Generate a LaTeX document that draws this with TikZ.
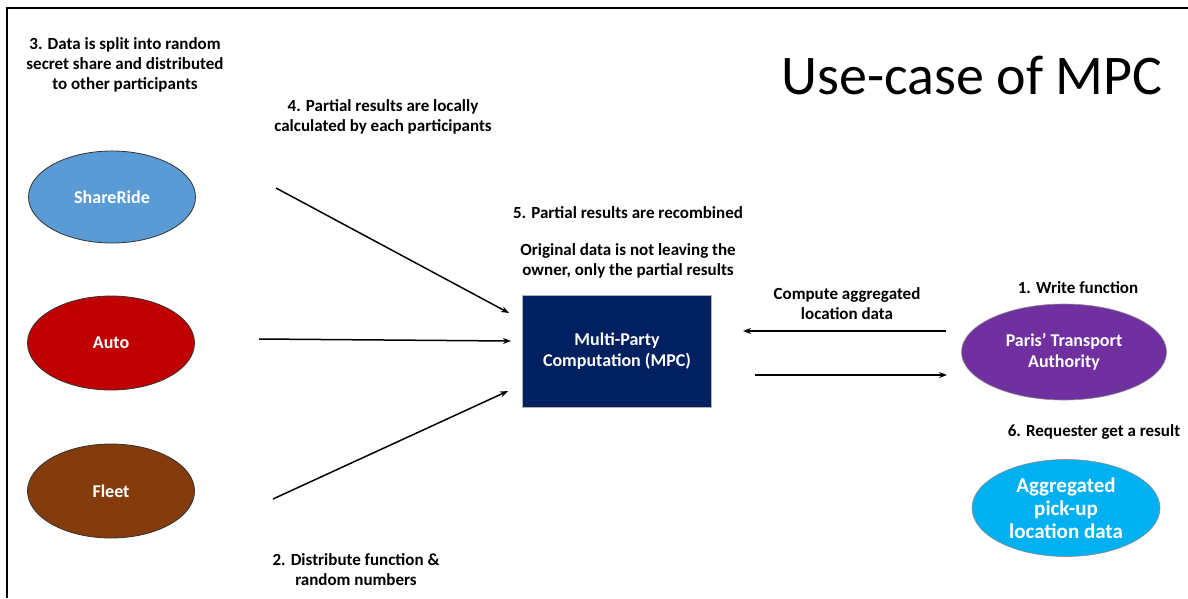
\documentclass[tikz,border=0pt]{standalone}
\usepackage{fontspec}
\setmainfont{Carlito}
\usetikzlibrary{shapes.geometric,arrows.meta}
\definecolor{cshare}{HTML}{5B9BD5}
\definecolor{cauto}{HTML}{C00000}
\definecolor{cfleet}{HTML}{843C0C}
\definecolor{cmpc}{HTML}{002060}
\definecolor{cparis}{HTML}{7030A0}
\definecolor{cagg}{HTML}{00B0F0}
\begin{document}
\begin{tikzpicture}[x=1pt,y=-1pt,
  party/.style={ellipse,draw=black!80,line width=0.8pt,minimum width=167pt,minimum height=94pt,inner sep=0pt,text=white,font=\bfseries\fontsize{18}{21}\selectfont,align=center},
  rparty/.style={ellipse,draw=black!45,line width=0.6pt,inner sep=0pt,text=white,align=center},
  lbl/.style={font=\bfseries\fontsize{17}{20}\selectfont,align=center,inner sep=0pt},
  arr/.style={-{Stealth[length=8pt,width=6pt]},line width=1.5pt}]
\useasboundingbox (0,0) rectangle (1188,598);
\fill[white] (0,0) rectangle (1188,598);
% frame
\coordinate (fb) at (7,598);
\coordinate (ftl) at (7,8);
\coordinate (fr) at (1188,8);
\draw[line width=2pt] (fb) -- (ftl) -- (fr);
% title
\node[font=\fontsize{56}{64}\selectfont,inner sep=0pt] (title) at (972,76) {Use-case of MPC};
% parties
\node[party,fill=cshare,minimum height=92pt] (share) at (112,197) {ShareRide};
\node[party,fill=cauto] (auto) at (111,343) {Auto};
\node[party,fill=cfleet] (fleet) at (111,491) {Fleet};
% MPC
\node[draw=black!30,fill=cmpc,minimum width=189pt,minimum height=112pt,inner sep=0pt,text=white,font=\bfseries\fontsize{18}{21}\selectfont,align=center] (mpc) at (617,351) {Multi-Party\\Computation (MPC)};
% right side
\node[rparty,fill=cparis,minimum width=205pt,minimum height=96pt,font=\bfseries\fontsize{18}{21}\selectfont] (paris) at (1064,352) {Paris’ Transport\\Authority};
\node[rparty,fill=cagg,minimum width=188pt,minimum height=97pt,font=\bfseries\fontsize{21}{23}\selectfont] (agg) at (1066,508) {Aggregated\\pick-up\\location data};
% labels
\node[lbl] (l3) at (125,65) {3. Data is split into random\\secret share and distributed\\to other participants};
\node[lbl] (l4) at (383,117) {4. Partial results are locally\\calculated by each participants};
\node[lbl] (l5) at (628,213) {5. Partial results are recombined};
\node[lbl] (lorig) at (628,261) {Original data is not leaving the\\owner, only the partial results};
\node[lbl] (lcomp) at (847,304) {Compute aggregated\\location data};
\node[lbl] (l1) at (1078,288) {1. Write function};
\node[lbl] (l6) at (1094,432) {6. Requester get a result};
\node[lbl] (l2) at (356,570) {2. Distribute function \&\\random numbers};
% arrows
\coordinate (a1s) at (276,188); \coordinate (a1e) at (509,313);
\coordinate (a2s) at (259,339); \coordinate (a2e) at (511,341);
\coordinate (a3s) at (273,499); \coordinate (a3e) at (508,391);
\coordinate (a4s) at (946,331); \coordinate (a4e) at (743,331);
\coordinate (a5s) at (755,375); \coordinate (a5e) at (947,375);
\draw[arr] (a1s) -- (a1e);
\draw[arr] (a2s) -- (a2e);
\draw[arr] (a3s) -- (a3e);
\draw[arr] (a4s) -- (a4e);
\draw[arr] (a5s) -- (a5e);
\end{tikzpicture}
\end{document}
